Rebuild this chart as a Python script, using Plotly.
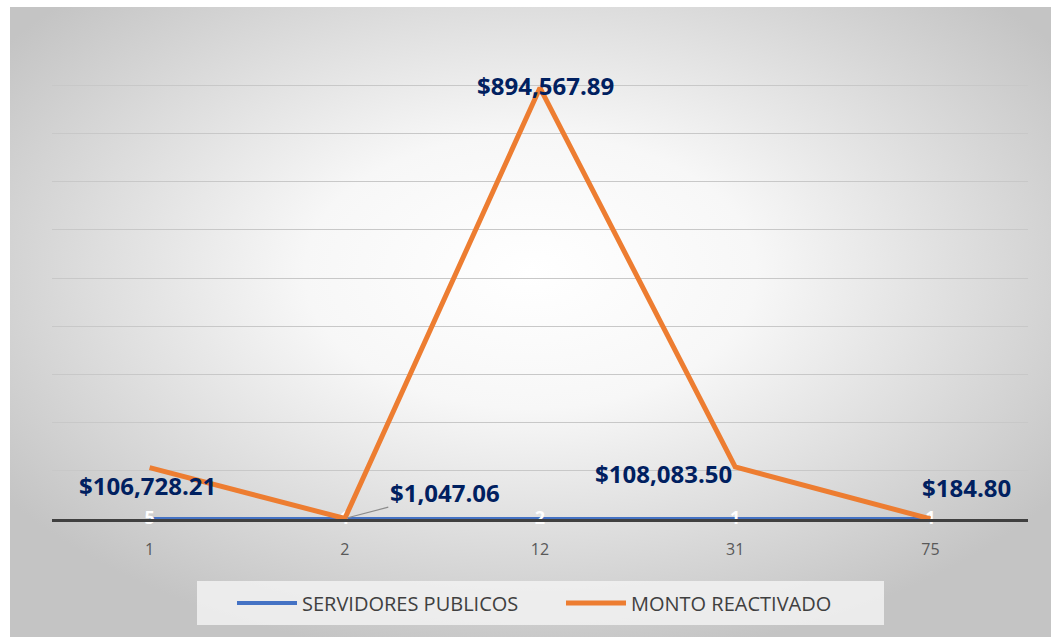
import plotly.graph_objects as go
import urllib.parse

categories = ["1", "2", "12", "31", "75"]
servidores = [5, 1, 2, 1, 1]
monto = [106728.21, 1047.06, 894567.89, 108083.50, 184.80]
monto_labels = ["$106,728.21", "$1,047.06", "$894,567.89", "$108,083.50", "$184.80"]

W, H = 1051, 637
L, R, T, B = 52, 23, 37, 118
pw, ph = W - L - R, H - T - B

def px_x(p):
    return (p - L) / pw

def px_y(p):
    return (H - B - p) / ph

svg = ('<svg xmlns="http://www.w3.org/2000/svg" width="1041" height="630" preserveAspectRatio="none">'
       '<defs><radialGradient id="g" cx="50%" cy="42%" r="62%">'
       '<stop offset="0" stop-color="#ffffff"/><stop offset="0.35" stop-color="#f7f7f7"/>'
       '<stop offset="1" stop-color="#c4c4c4"/></radialGradient></defs>'
       '<rect width="1041" height="630" fill="url(#g)"/></svg>')
src = "data:image/svg+xml;charset=utf-8," + urllib.parse.quote(svg)

idx = list(range(len(categories)))

fig = go.Figure()
fig.add_trace(go.Scatter(
    x=idx, y=servidores, name="SERVIDORES PUBLICOS",
    mode="lines+text", text=[str(v) for v in servidores], textposition="middle center",
    textfont=dict(color="white", size=18, family="Open Sans", weight="bold"),
    line=dict(color="#4472C4", width=4), cliponaxis=False))
fig.add_trace(go.Scatter(
    x=idx, y=monto, name="MONTO REACTIVADO", mode="lines",
    line=dict(color="#ED7D31", width=5), cliponaxis=False))

shifts = [(-2, -18), None, (5, 2), (-72, -7), (36, 31)]
for i, (v, t) in enumerate(zip(monto, monto_labels)):
    font = dict(family="Open Sans", size=24, color="#002060", weight="bold")
    if shifts[i] is None:
        fig.add_annotation(x=idx[i], y=v, text=t, showarrow=True, ax=100, ay=-26,
                           arrowhead=0, arrowwidth=1.2, arrowcolor="#8c8c8c",
                           standoff=2, font=font)
    else:
        fig.add_annotation(x=idx[i], y=v, text=t, showarrow=False,
                           xshift=shifts[i][0], yshift=shifts[i][1], font=font)

fig.add_layout_image(dict(source=src, xref="paper", yref="paper",
                          x=px_x(10), y=px_y(7), sizex=(W - 10) / pw, sizey=(H - 7) / ph,
                          xanchor="left", yanchor="top", sizing="stretch", layer="below"))
fig.add_shape(type="rect", xref="paper", yref="paper",
              x0=px_x(197), x1=px_x(884), y0=px_y(625), y1=px_y(581),
              fillcolor="rgba(242,242,242,0.85)", line=dict(width=0), layer="below")

fig.update_layout(
    width=W, height=H, margin=dict(l=L, r=R, t=T, b=B, autoexpand=False),
    paper_bgcolor="white", plot_bgcolor="rgba(0,0,0,0)",
    showlegend=True,
    legend=dict(orientation="h", x=px_x(232), xanchor="left", y=px_y(603), yanchor="middle",
                bgcolor="rgba(0,0,0,0)", font=dict(family="Open Sans", size=20, color="#404040"),
                entrywidth=254, entrywidthmode="pixels", itemwidth=60),
    xaxis=dict(range=[-0.5, 4.5], tickmode="array", tickvals=idx, ticktext=categories,
               showgrid=False, showline=True, linecolor="#404040", linewidth=3,
               ticks="", tickfont=dict(family="Open Sans", size=16, color="#595959"),
               ticklabelstandoff=14, fixedrange=True, zeroline=False),
    yaxis=dict(range=[0, 1000000], dtick=100000, showgrid=True, gridcolor="#c8c8c8", gridwidth=1,
               showticklabels=False, zeroline=False, showline=False, fixedrange=True),
)

fig.write_html("out.html", config={"displayModeBar": False},
               post_script="document.body.style.margin='0';")
